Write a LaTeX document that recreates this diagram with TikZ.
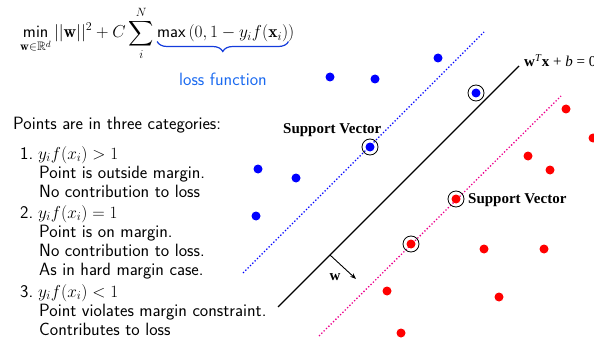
\documentclass[tikz,border=0pt]{standalone}
\usepackage{amsmath}
\usepackage{amssymb}
\usepackage{fontspec}
\newfontfamily\svfont{Liberation Serif}
\usetikzlibrary{positioning, arrows.meta, decorations.pathreplacing, calc}
\definecolor{lossblue}{RGB}{25,105,240}
\definecolor{bracecol}{RGB}{20,60,220}

\begin{document}
\begin{tikzpicture}[x=1pt, y=-1pt,
  bdot/.style={circle, fill=blue, inner sep=0pt, minimum size=9pt},
  rdot/.style={circle, fill=red, inner sep=0pt, minimum size=9pt},
  ring/.style={circle, draw, line width=0.8pt, minimum size=16pt, inner sep=0pt},
  txt/.style={anchor=base west, inner sep=0pt, font=\sffamily\fontsize{17.8}{20}\selectfont},
  svlabel/.style={inner sep=0pt, font=\svfont\bfseries\fontsize{15}{18}\selectfont}]
\useasboundingbox (0,0) rectangle (594,342);

% Objective
\node[anchor=base west, inner sep=0pt, font=\fontsize{17.5}{20}\selectfont] (obj) at (20,38)
  {$\displaystyle\mathop{\textsf{min}}_{\mathbf{w}\in\mathbb{R}^d} ||\mathbf{w}||^2 + C\sum_{i}^{N}$};
\node[anchor=base west, inner sep=0pt, font=\fontsize{17.5}{20}\selectfont] (hinge) at (obj.base east)
  {$\,\textsf{max}\,(0, 1-y_i f(\mathbf{x}_i))$};
\coordinate (braceL) at ($(hinge.south west)+(3,-1)$);
\coordinate (braceR) at ($(hinge.south east)+(-6,-1)$);
\draw[bracecol, line width=1.2pt, decorate, decoration={brace, mirror, amplitude=10pt}]
  (braceL) -- (braceR);
\node[txt, anchor=center, lossblue] (loss) at (223,79) {loss function};

% Categories
\node[txt] (cat) at (13,129) {Points are in three categories:};
\node[txt] (n1) at (20,159) {1.};
\node[txt] (c1) at (38,159) {$y_i f(x_i) > 1$};
\node[txt] (c1a) at (39,178) {Point is outside margin.};
\node[txt] (c1b) at (39,197) {No contribution to loss};
\node[txt] (n2) at (20,218) {2.};
\node[txt] (c2) at (38,218) {$y_i f(x_i) = 1$};
\node[txt] (c2a) at (39,237) {Point is on margin.};
\node[txt] (c2b) at (39,256) {No contribution to loss.};
\node[txt] (c2c) at (39,275) {As in hard margin case.};
\node[txt] (n3) at (20,297) {3.};
\node[txt] (c3) at (38,297) {$y_i f(x_i) < 1$};
\node[txt] (c3a) at (39,316) {Point violates margin constraint.};
\node[txt] (c3b) at (39,335) {Contributes to loss};

% Hyperplane and margins
\coordinate (hypA) at (278,307);
\coordinate (hypB) at (519,66);
\coordinate (posA) at (243,273);
\coordinate (posB) at (484,32);
\coordinate (negA) at (319,336);
\coordinate (negB) at (561,96);
\draw[blue, line width=1.3pt, dotted] (posA) -- (posB);
\draw[magenta, line width=1.3pt, dotted] (negA) -- (negB);
\draw[line width=1.4pt] (hypA) -- (hypB);
\node[anchor=base west, inner sep=0pt, font=\svfont\fontsize{15}{18}\selectfont] (eq) at (524,67)
  {\textbf{w}\textsuperscript{\textit{T}}\textbf{x} + \textit{b} = 0};

% Normal vector
\coordinate (wfoot) at (330,255);
\coordinate (wtip) at (356,279);
\draw[line width=0.9pt, -{Stealth[length=6pt]}] (wfoot) -- (wtip);
\node[svlabel] (wlbl) at (335,277) {w};

% Points
\foreach \p in {(330,77),(375,79),(438,58),(258,169),(296,178),(256,216)}
  \node[bdot] at \p {};
\foreach \p in {(566,109),(593,138),(528,156),(550,170),(484,249),(544,249),(387,291),(499,297),(401,333)}
  \node[rdot] at \p {};

% Support vectors
\node[bdot] (svb1) at (370,147) {};
\node[bdot] (svb2) at (476,93) {};
\node[rdot] (svr1) at (456,199) {};
\node[rdot] (svr2) at (411,244) {};
\foreach \s in {svb1,svb2,svr1,svr2}
  \node[ring] at (\s) {};
\node[svlabel, anchor=base west] (svtxt1) at (283,133) {Support Vector};
\node[svlabel, anchor=west] (svtxt2) at (468,200) {Support Vector};
\end{tikzpicture}
\end{document}
